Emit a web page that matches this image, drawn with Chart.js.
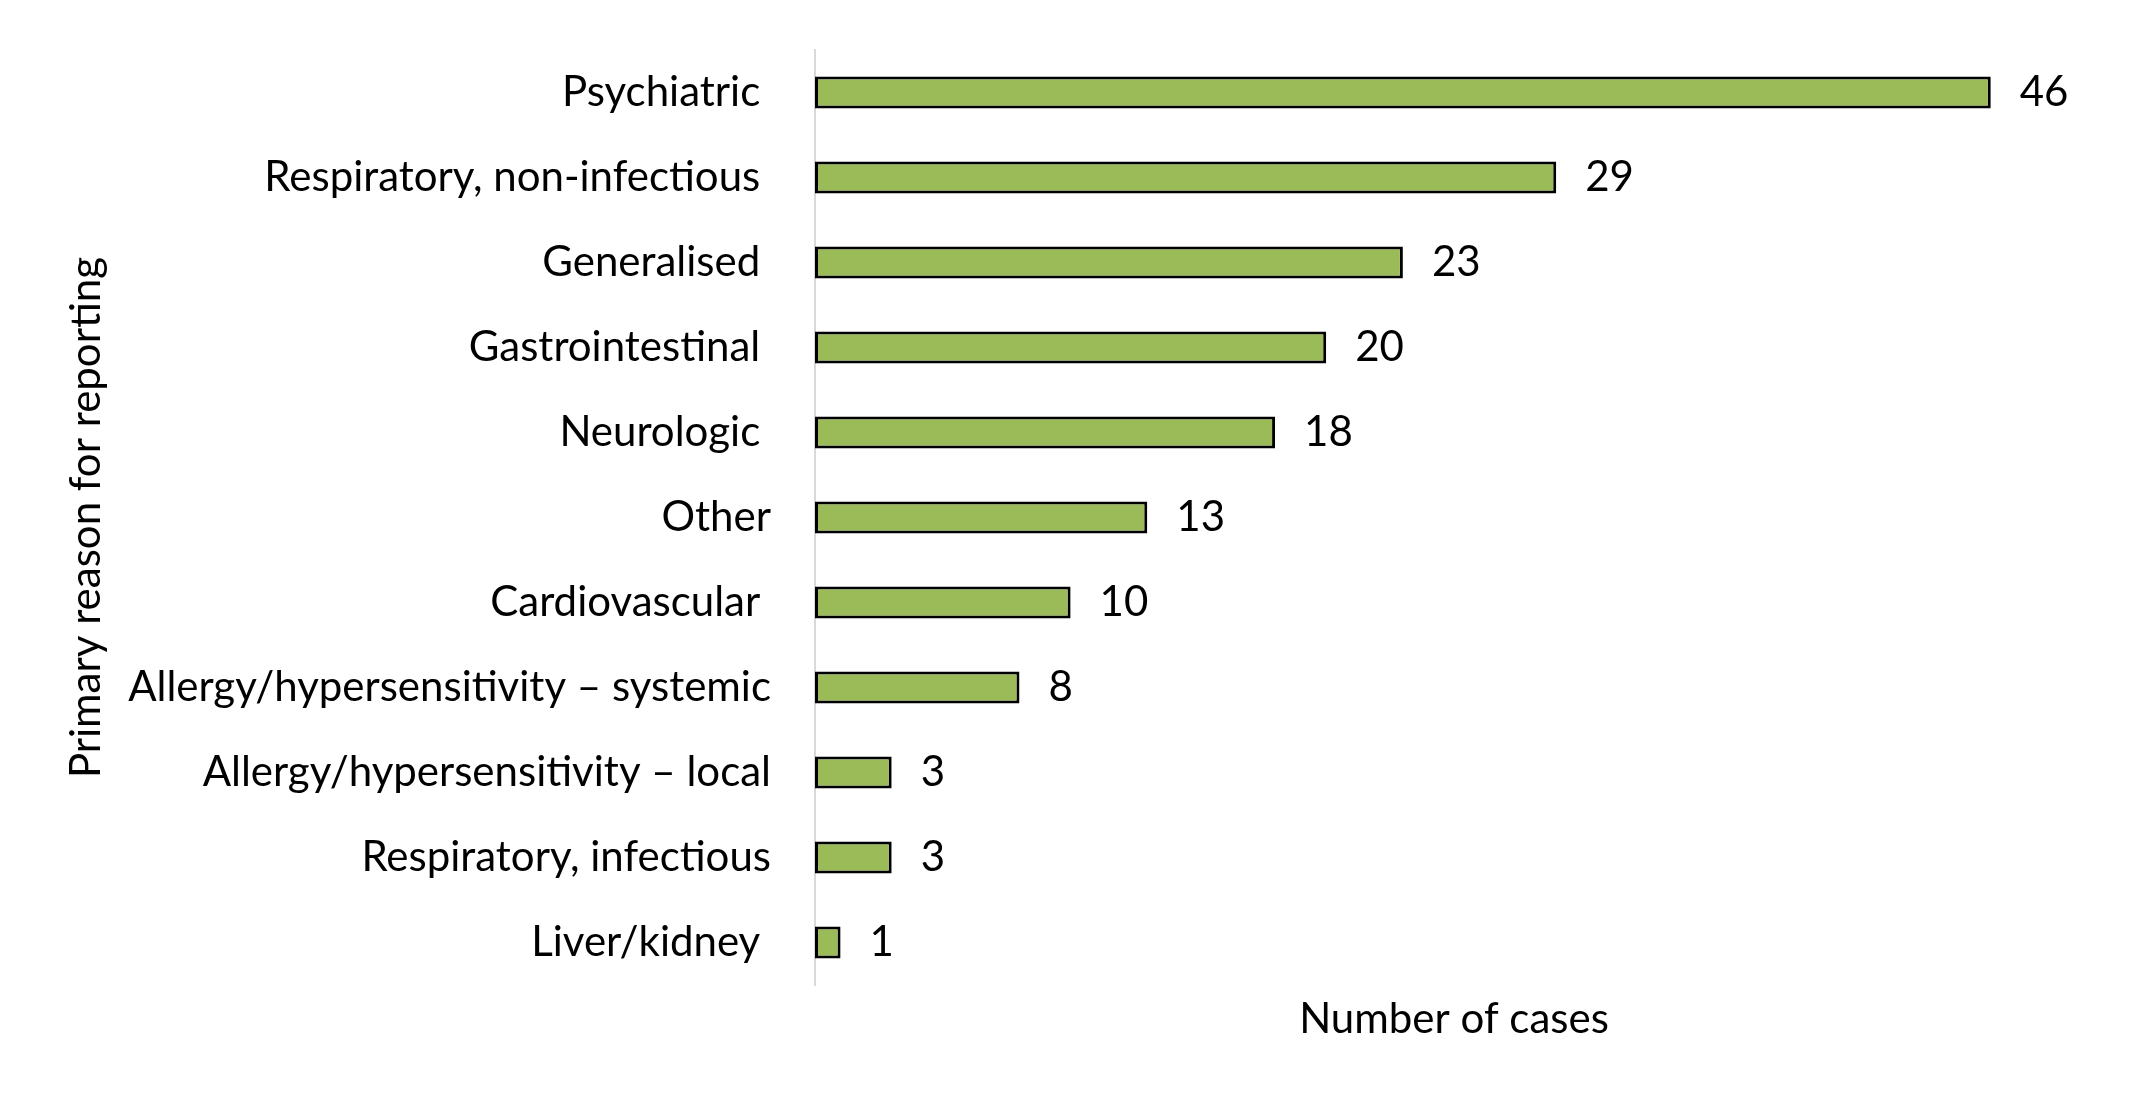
<!DOCTYPE html>
<html>
<head>
<meta charset="utf-8">
<script src="https://cdn.jsdelivr.net/npm/chart.js@4/dist/chart.umd.min.js"></script>
<style>
  html, body { margin: 0; padding: 0; background: #ffffff; }
  #wrap { width: 2145px; height: 1104px; }
</style>
</head>
<body>
<div id="wrap"><canvas id="c" width="2145" height="1104"></canvas></div>
<script>
const categories = [
  "Psychiatric ",
  "Respiratory, non-infectious ",
  "Generalised ",
  "Gastrointestinal ",
  "Neurologic ",
  "Other",
  "Cardiovascular ",
  "Allergy/hypersensitivity \u2013 systemic",
  "Allergy/hypersensitivity \u2013 local",
  "Respiratory, infectious",
  "Liver/kidney "
];
const cases = [46, 29, 23, 20, 18, 13, 10, 8, 3, 3, 1];
const xAxisTitle = "Number of cases";
const yAxisTitle = "Primary reason for reporting";

const FONT = "Lato, 'Open Sans', sans-serif";
const FS = 42;

const valueLabels = {
  id: 'valueLabels',
  afterDatasetsDraw(chart) {
    const ctx = chart.ctx;
    const meta = chart.getDatasetMeta(0);
    ctx.save();
    ctx.font = FS + "px " + FONT;
    ctx.fillStyle = "#000000";
    ctx.textAlign = "left";
    ctx.textBaseline = "middle";
    meta.data.forEach((bar, i) => {
      ctx.fillText(String(cases[i]), bar.x + 29, bar.y);
    });
    ctx.restore();
  }
};

new Chart(document.getElementById('c'), {
  type: 'bar',
  data: {
    labels: categories,
    datasets: [{
      data: cases,
      backgroundColor: '#9BBB59',
      borderColor: '#000000',
      borderWidth: 3,
      borderSkipped: false,
      categoryPercentage: 1.0,
      barPercentage: 0.376
    }]
  },
  options: {
    indexAxis: 'y',
    responsive: false,
    animation: false,
    devicePixelRatio: 1,
    layout: { padding: { top: 50, right: 52, bottom: 0, left: 0 } },
    plugins: { legend: { display: false }, tooltip: { enabled: false } },
    scales: {
      x: {
        min: 0, max: 50,
        grid: { display: false, drawTicks: false },
        border: { display: false },
        ticks: { display: false },
        title: {
          display: true, text: xAxisTitle, color: '#000000',
          font: { family: FONT, size: FS }, padding: { top: 0, bottom: 59 }
        },
        afterFit(scale) {
          scale.height = 119;
          scale.paddingLeft = 0; scale.paddingRight = 0;
        }
      },
      y: {
        grid: { display: false, drawTicks: false },
        border: { display: true, color: '#d9d9d9', width: 2 },
        ticks: {
          color: '#000000', padding: 44, autoSkip: false,
          font: { family: FONT, size: FS }
        },
        title: {
          display: true, text: yAxisTitle, color: '#000000',
          font: { family: FONT, size: FS }, padding: { top: 61, bottom: 0 }
        },
        afterFit(scale) {
          scale.width = 815;
          scale.paddingTop = 0; scale.paddingBottom = 0;
        }
      }
    }
  },
  plugins: [valueLabels]
});
</script>
</body>
</html>
